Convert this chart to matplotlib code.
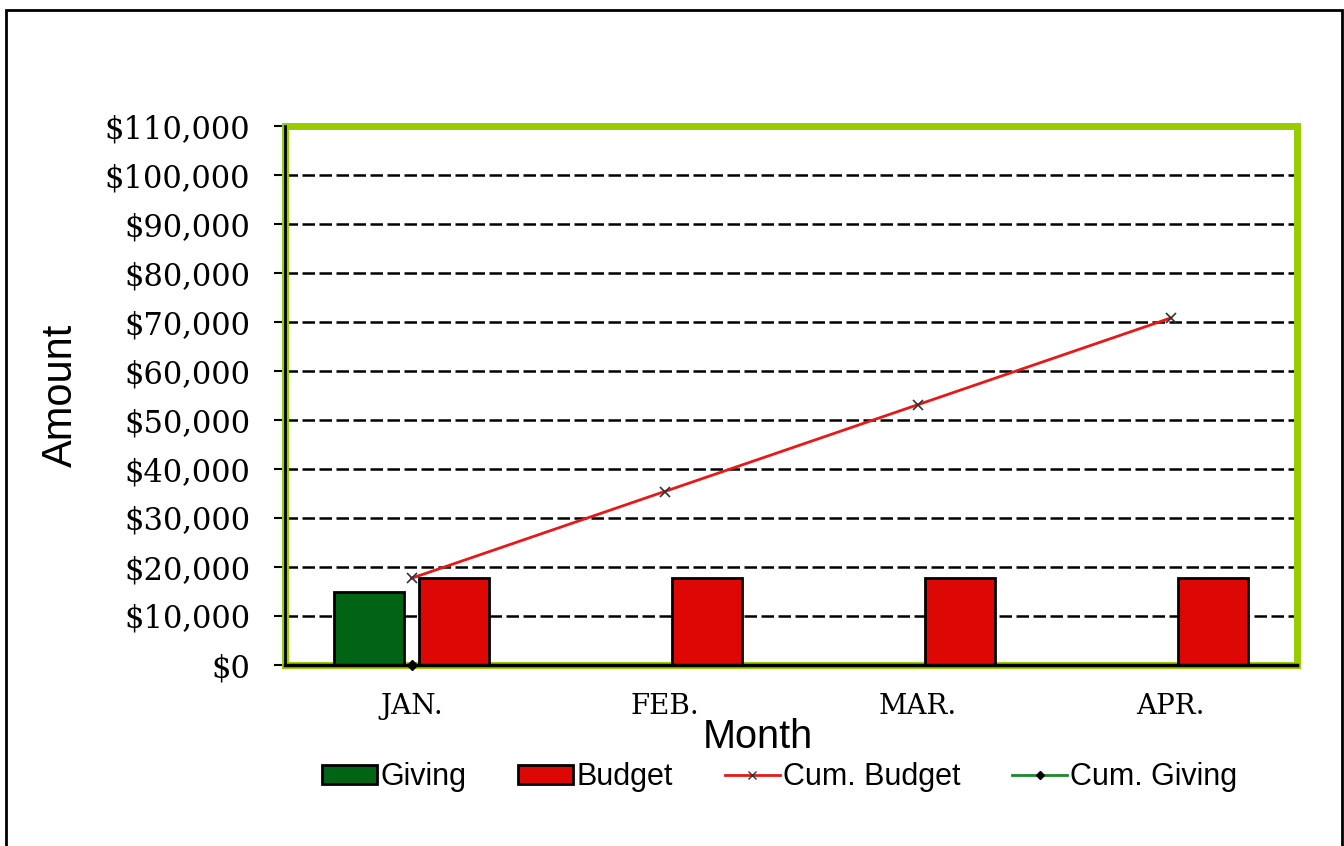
import numpy as np
import matplotlib
matplotlib.use("Agg")
import matplotlib.pyplot as plt
from matplotlib.patches import Rectangle, Patch
from matplotlib.lines import Line2D
from matplotlib.ticker import FuncFormatter, MultipleLocator

months = ["JAN.", "FEB.", "MAR.", "APR."]
giving = [15000, np.nan, np.nan, np.nan]
budget = [17700, 17700, 17700, 17700]
cum_budget = [17700, 35400, 53100, 70800]
cum_giving = [0, np.nan, np.nan, np.nan]

GREEN_FRAME = "#99CC00"
GIVING_C = "#006414"
BUDGET_C = "#DD0806"
LINE_RED = "#E81818"
LINE_GREEN = "#1A8A2A"

fig = plt.figure(figsize=(13.44, 8.46), dpi=100)
fig.patch.set_facecolor("white")
# outer frame
fig.patches.append(Rectangle((6/1344, -0.02), (1342-6)/1344, 1.02 - 10/846,
                             transform=fig.transFigure, fill=False,
                             edgecolor="black", linewidth=2, zorder=0))

ax = fig.add_axes([285/1344, 1-665/846, (1297-285)/1344, (665-126)/846])
x = np.arange(len(months))
w = 0.277
off = 0.168
ax.bar(x - off, giving, width=w, color=GIVING_C, edgecolor="black", linewidth=2, zorder=3)
ax.bar(x + off, budget, width=w, color=BUDGET_C, edgecolor="black", linewidth=2, zorder=3)
ax.plot(x, cum_budget, color=LINE_RED, linewidth=2, marker="x", markersize=7,
        markeredgecolor="#333333", markeredgewidth=1.2, zorder=4)
ax.plot(x, cum_giving, color=LINE_GREEN, linewidth=2, marker="D", markersize=5,
        markerfacecolor="black", markeredgecolor="black", zorder=7, clip_on=False)

ax.set_xlim(-0.5, 3.5)
ax.set_ylim(0, 110000)
ax.yaxis.set_major_locator(MultipleLocator(10000))
ax.yaxis.set_major_formatter(FuncFormatter(lambda v, p: f"${v:,.0f}"))
ax.set_xticks(x)
ax.set_xticklabels(months, fontfamily="DejaVu Serif", fontsize=20)
for lab in ax.get_yticklabels():
    lab.set_fontfamily("DejaVu Serif")
    lab.set_fontsize(22)
ax.tick_params(axis="y", length=8, width=1.5, pad=17, color="black")
ax.tick_params(axis="x", length=0, pad=20)
ax.grid(axis="y", color="black", linestyle=(0, (5, 1.8)), linewidth=1.8, zorder=1)
ax.set_axisbelow(True)

for s in ax.spines.values():
    s.set_color(GREEN_FRAME)
    s.set_linewidth(5)
    s.set_zorder(2)
# black axis lines on left and bottom
ax.plot([0, 1], [0, 0], transform=ax.transAxes, color="black", linewidth=2.5,
        clip_on=False, zorder=6)
ax.plot([0, 0], [0, 1], transform=ax.transAxes, color="black", linewidth=2,
        clip_on=False, zorder=6)

ax.set_xlabel("Month", fontfamily="Liberation Sans", fontsize=28.5, va="center")
ax.xaxis.set_label_coords((758-285)/1012, -(737-665)/539)
ax.set_ylabel("Amount", fontfamily="Liberation Sans", fontsize=30, va="center")
ax.yaxis.set_label_coords(-(285-61)/1012, 0.5)

handles = [
    Patch(facecolor=GIVING_C, edgecolor="black", linewidth=2),
    Patch(facecolor=BUDGET_C, edgecolor="black", linewidth=2),
    Line2D([], [], color=LINE_RED, linewidth=2, marker="x", markersize=6,
           markeredgecolor="#333333"),
    Line2D([], [], color=LINE_GREEN, linewidth=2, marker="D", markersize=4,
           markerfacecolor="black", markeredgecolor="black"),
]
fig.legend(handles, ["Giving", "Budget", "Cum. Budget", "Cum. Giving"],
           loc="center", bbox_to_anchor=(780/1344, 1-777/846), ncol=4,
           frameon=False, prop={"family": "Liberation Sans", "size": 22},
           handlelength=1.8, handleheight=0.6, handletextpad=0.1, columnspacing=1.7)

fig.savefig("out.png", dpi=100)
